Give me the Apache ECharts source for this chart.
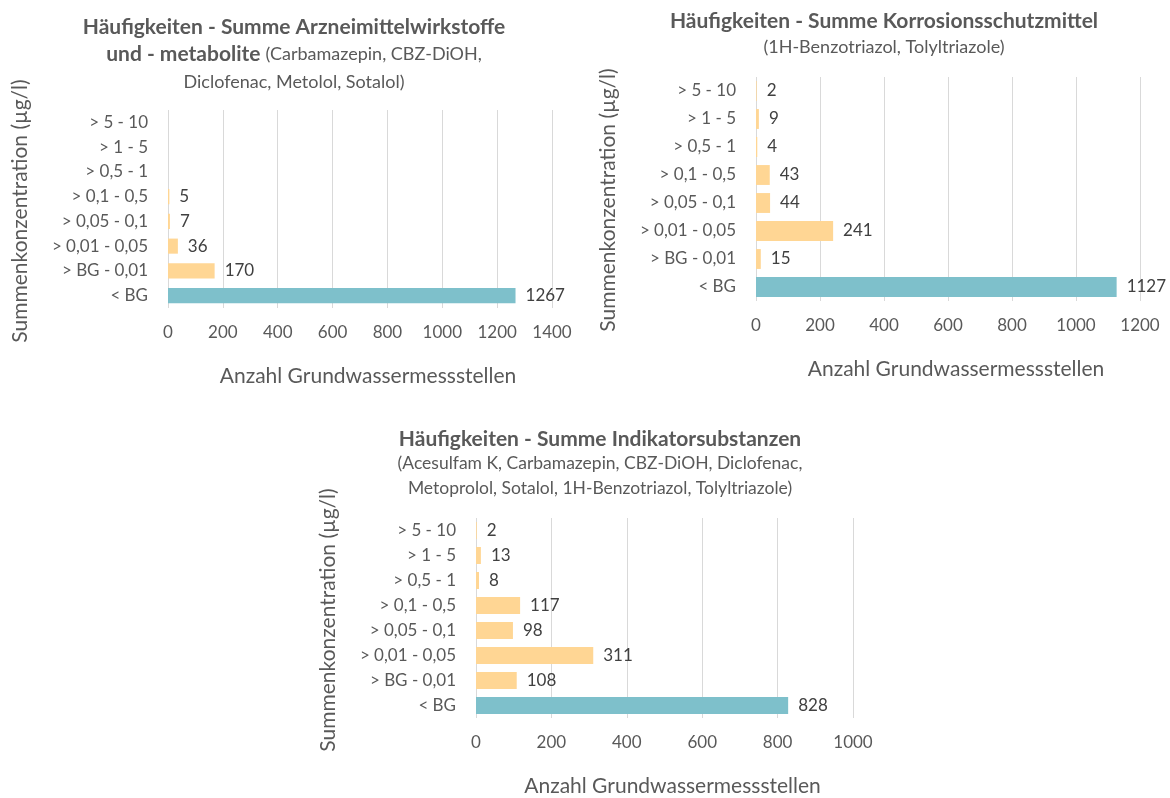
<!DOCTYPE html>
<html>
<head>
<meta charset="utf-8">
<script src="https://cdn.jsdelivr.net/npm/echarts@6/dist/echarts.min.js"></script>
<style>
  html, body { margin: 0; padding: 0; background: #ffffff; }
  #chart { width: 1170px; height: 798px; }
</style>
</head>
<body>
<div id="chart"></div>
<script>
// Concentration classes, listed bottom to top
const categories = ['< BG', '> BG - 0,01', '> 0,01 - 0,05', '> 0,05 - 0,1', '> 0,1 - 0,5', '> 0,5 - 1', '> 1 - 5', '> 5 - 10'];

// Number of groundwater monitoring sites per class
const arzneimittel = [1267, 170, 36, 7, 5, null, null, null];
const korrosionsschutz = [1127, 15, 241, 44, 43, 4, 9, 2];
const indikatoren = [828, 108, 311, 98, 117, 8, 13, 2];

// x axis tick ranges
const xMax = [1400, 1200, 1000];
const xStep = 200;

const yAxisName = 'Summenkonzentration (µg/l)';
const xAxisName = 'Anzahl Grundwassermessstellen';

const titles = [
  '{b|Häufigkeiten - Summe Arzneimittelwirkstoffe}\n{b|und - metabolite} {r|(Carbamazepin, CBZ-DiOH,}\n{r|Diclofenac, Metolol, Sotalol)}',
  '{b|Häufigkeiten - Summe Korrosionsschutzmittel}\n{r|(1H-Benzotriazol, Tolyltriazole)}',
  '{b|Häufigkeiten - Summe Indikatorsubstanzen}\n{r|(Acesulfam K, Carbamazepin, CBZ-DiOH, Diclofenac,}\n{r|Metoprolol, Sotalol, 1H-Benzotriazol, Tolyltriazole)}'
];

const FONT = 'Lato, "Open Sans", sans-serif';
const TEXT = '#595959';
const TEAL = '#7EC0CB';
const ORANGE = '#FFD694';

const grids = [
  { left: 168, top: 110, width: 384, height: 198 },
  { left: 756, top: 77, width: 384, height: 224 },
  { left: 476, top: 518, width: 377, height: 200 }
];
const titlePos = [
  { left: 289, top: 8, lh: 27.5, rs: 18 },
  { left: 879, top: 3, lh: 26, rs: 18 },
  { left: 595, top: 422, lh: 24.5, rs: 17.5 }
];
const gaps = ['39%', '29%', '32%'];
const seriesData = [arzneimittel, korrosionsschutz, indikatoren];

const chart = echarts.init(document.getElementById('chart'));

const option = {
  backgroundColor: '#ffffff',
  animation: false,
  title: titles.map((t, i) => ({
    text: t,
    left: titlePos[i].left,
    top: titlePos[i].top,
    textAlign: 'center',
    textStyle: {
      rich: {
        b: { fontFamily: FONT, fontSize: 21, fontWeight: 'bold', color: TEXT, lineHeight: titlePos[i].lh },
        r: { fontFamily: FONT, fontSize: titlePos[i].rs, fontWeight: 'normal', color: TEXT, lineHeight: titlePos[i].lh }
      }
    }
  })),
  grid: grids.map(g => Object.assign({ containLabel: false }, g)),
  xAxis: xMax.map((m, i) => ({
    type: 'value',
    gridIndex: i,
    min: 0,
    max: m,
    interval: xStep,
    name: xAxisName,
    nameLocation: 'middle',
    nameGap: 58,
    nameTextStyle: { fontFamily: FONT, fontSize: 21, color: TEXT, padding: [0, 0, 0, 16] },
    axisLine: { show: false },
    axisTick: { show: false },
    axisLabel: { fontFamily: FONT, fontSize: 17, color: TEXT, margin: 16, formatter: v => String(v) },
    splitLine: { show: true, lineStyle: { color: '#D9D9D9', width: 1 } }
  })),
  yAxis: xMax.map((m, i) => ({
    type: 'category',
    gridIndex: i,
    data: categories,
    name: yAxisName,
    nameLocation: 'middle',
    nameRotate: 90,
    nameGap: 137,
    nameTextStyle: { fontFamily: FONT, fontSize: 21, color: TEXT, padding: i === 1 ? [0, 22, 0, 0] : [0, 4, 0, 0] },
    axisLine: { show: false },
    axisTick: { show: false },
    axisLabel: { fontFamily: FONT, fontSize: 17, color: TEXT, margin: 20 }
  })),
  series: seriesData.map((d, i) => ({
    type: 'bar',
    xAxisIndex: i,
    yAxisIndex: i,
    data: d,
    barCategoryGap: gaps[i],
    itemStyle: {
      color: p => (p.dataIndex === 0 ? TEAL : ORANGE)
    },
    label: {
      show: true,
      position: 'right',
      distance: 10,
      fontFamily: FONT,
      fontSize: 17,
      color: '#404040'
    }
  }))
};

chart.setOption(option);
</script>
</body>
</html>
